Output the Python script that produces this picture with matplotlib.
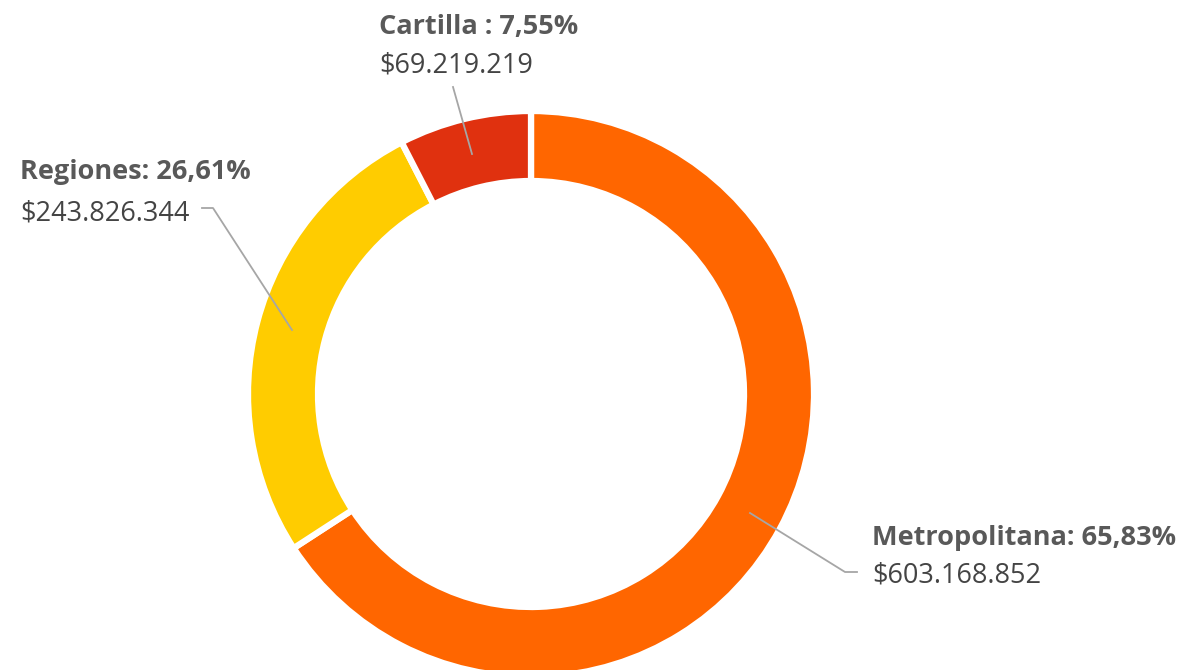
import matplotlib.pyplot as plt

# data
names = ["Metropolitana", "Regiones", "Cartilla "]
amounts = [603168852, 243826344, 69219219]
colors = ["#ff6600", "#ffcc00", "#e0310f"]

W, H = 1195, 670
def fy(y):
    # pixel row (top-down) -> data y (bottom-up)
    return H - y

fig = plt.figure(figsize=(W / 100, H / 100), dpi=100)
ax = fig.add_axes([0, 0, 1, 1])
ax.set_xlim(0, W)
ax.set_ylim(0, H)
ax.set_aspect("equal")
ax.axis("off")

ax.pie(amounts, colors=colors, startangle=90, counterclock=False,
       center=(531, fy(394)), radius=283,
       wedgeprops=dict(width=70, edgecolor="white", linewidth=4.5))
ax.set_xlim(0, W)
ax.set_ylim(0, H)

total = sum(amounts)
def pct(v):
    return ("%.2f" % (100.0 * v / total)).replace(".", ",") + "%"
def money(v):
    return "$" + "{:,}".format(v).replace(",", ".")

# label anchors (left x, bold line y, value line y) and leader lines in pixels
text_pos = [(872, 538, 576), (20, 172, 213), (379, 27, 65)]
leaders = [
    [(750, 513), (845, 572), (857, 572)],
    [(202, 208), (213, 208), (292, 330)],
    [(453, 87), (472, 154)],
]

fam = ["Open Sans", "DejaVu Sans"]
for name, v, (tx, ty1, ty2), pts in zip(names, amounts, text_pos, leaders):
    ax.text(tx, fy(ty1), name + ": " + pct(v), fontsize=19.5, fontweight="bold",
            color="#595959", family=fam, va="center", ha="left")
    ax.text(tx, fy(ty2), money(v), fontsize=19.5, color="#444444",
            family=fam, va="center", ha="left")
    ax.plot([p[0] for p in pts], [fy(p[1]) for p in pts], color="#a6a6a6", lw=1.3)

fig.savefig("out.png", dpi=100, facecolor="white")
